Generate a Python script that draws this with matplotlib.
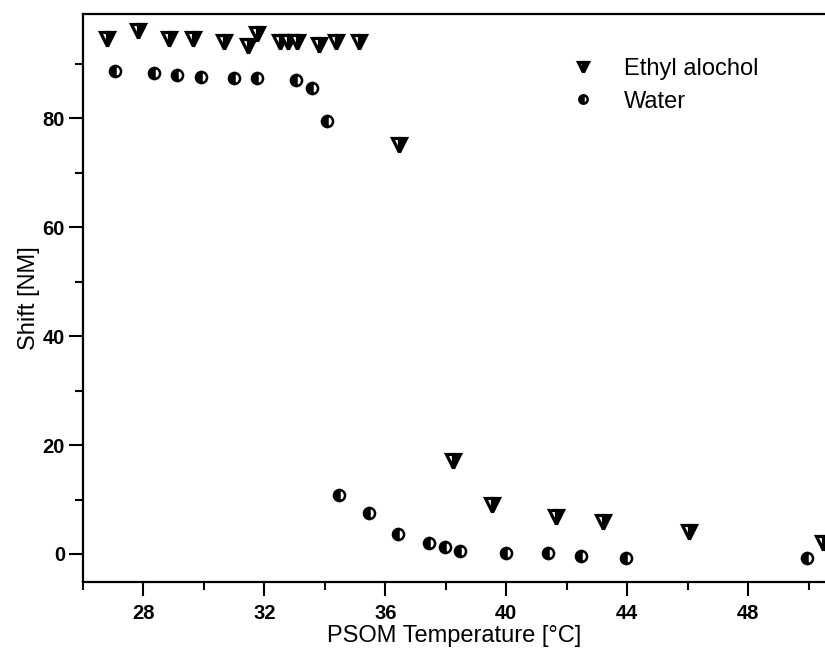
import matplotlib
matplotlib.use("Agg")
import matplotlib.pyplot as plt
from matplotlib.ticker import MultipleLocator

plt.rcParams['font.family'] = ['Liberation Sans', 'DejaVu Sans']

# --- datos ---
temp_etanol = [26.81, 27.83, 28.86, 29.65, 30.67, 31.47, 31.77, 32.52, 32.79, 33.09,
               33.82, 34.37, 35.14, 36.45, 38.25, 39.54, 41.64, 43.19, 46.05, 50.48]
shift_etanol = [94.6, 96.0, 94.6, 94.6, 94.0, 93.3, 95.4, 93.9, 93.9, 93.9,
                93.5, 94.0, 94.0, 75.0, 17.1, 9.0, 6.7, 5.8, 4.1, 2.1]

temp_agua = [27.06, 28.35, 29.12, 29.90, 30.98, 31.75, 33.05, 33.59, 34.08, 34.48,
             35.47, 36.43, 37.45, 37.97, 38.47, 39.98, 41.37, 42.46, 43.96, 49.95]
shift_agua = [88.6, 88.2, 87.9, 87.5, 87.3, 87.3, 87.0, 85.6, 79.5, 10.8,
              7.5, 3.6, 2.1, 1.2, 0.55, 0.1, 0.2, -0.4, -0.7, -0.7]

etiquetas = ['Ethyl alochol', 'Water']

fig = plt.figure(figsize=(8.25, 6.48), dpi=100)
ax = fig.add_axes([83/825, 1 - 582/648, (825 - 83)/825, (582 - 14)/648])

# triangulos casi negros con una cuña blanca a la derecha
ax.plot(temp_etanol, shift_etanol, ls='none', marker='v', ms=9.5,
        fillstyle='right', mfc='black', mfcalt='white', mec='black', mew=2.3,
        label=etiquetas[0], clip_on=False)
ax.plot(temp_agua, shift_agua, ls='none', marker='o', ms=8,
        fillstyle='left', mfc='black', mfcalt='white', mec='black', mew=1.8,
        label=etiquetas[1])

ax.set_xlim(26.0, 50.54)
ax.set_ylim(-5.14, 99.1)

ax.xaxis.set_major_locator(MultipleLocator(4))
ax.xaxis.set_minor_locator(MultipleLocator(2))
ax.yaxis.set_major_locator(MultipleLocator(20))
ax.yaxis.set_minor_locator(MultipleLocator(10))

ax.tick_params(which='major', direction='out', length=10, width=1.5,
               labelsize=14.5, pad=6)
ax.tick_params(which='minor', direction='out', length=5.5, width=1.5)
ax.tick_params(axis='y', which='major', pad=3)
for lab in ax.get_xticklabels() + ax.get_yticklabels():
    lab.set_fontweight('bold')

for s in ['left', 'bottom', 'top']:
    ax.spines[s].set_linewidth(1.6)
ax.spines['right'].set_visible(False)

ax.set_xlabel('PSOM Temperature [°C]', fontsize=17, labelpad=1)
ax.set_ylabel('Shift [NM]', fontsize=17, labelpad=2)

ax.legend(loc='upper left', bbox_to_anchor=(571/825, 1 - 58/648),
          bbox_transform=fig.transFigure, frameon=False, fontsize=17,
          markerscale=0.75, handlelength=1.0, handletextpad=1.25,
          labelspacing=0.45, borderpad=0, borderaxespad=0)

fig.savefig('out.png', dpi=100)
